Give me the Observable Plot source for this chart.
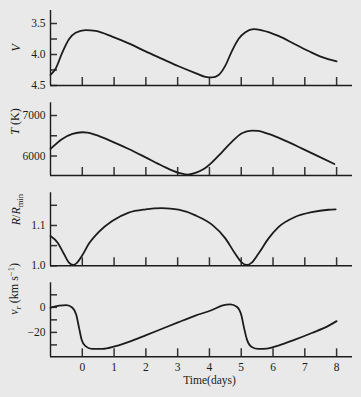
<!DOCTYPE html>
<html><head><meta charset="utf-8">
<script src="https://cdn.jsdelivr.net/npm/d3@7"></script>
<script src="https://cdn.jsdelivr.net/npm/@observablehq/plot@0.6"></script>
<style>
html,body{margin:0;padding:0;background:#e8e9e8;}
#chart{position:relative;width:361px;height:397px;overflow:hidden;background:#e8e9e8;}
#chart svg{position:absolute;left:0;}
</style></head><body><div id="chart"></div>
<script>
// ---- data ----
const dayTicks = [0, 1, 2, 3, 4, 5, 6, 7, 8];

const vTime = [-1, -0.84, -0.63, -0.42, -0.21, 0.1, 0.42, 0.94, 1.46, 1.99, 2.51, 3.03, 3.56, 3.87, 4.08, 4.29, 4.5, 4.71, 4.92, 5.13, 5.39, 5.65, 6.17, 6.69, 7.22, 7.64, 8.0];
const vMag  = [4.33, 4.23, 3.97, 3.755, 3.65, 3.605, 3.62, 3.71, 3.82, 3.95, 4.07, 4.19, 4.30, 4.36, 4.37, 4.33, 4.18, 3.94, 3.745, 3.64, 3.59, 3.61, 3.70, 3.835, 3.97, 4.06, 4.11];
const vTicks = [3.5, 3.75, 4.0, 4.25, 4.5];
const vTickLabels = [3.5, 4.0, 4.5];

const tTime = [-1, -0.63, -0.31, 0, 0.16, 0.42, 0.94, 1.46, 1.99, 2.51, 3.03, 3.3, 3.56, 3.82, 4.08, 4.39, 4.71, 5.02, 5.33, 5.54, 5.86, 6.38, 6.9, 7.43, 7.93];
const tTemp = [6174, 6421, 6545, 6587, 6579, 6521, 6355, 6174, 5967, 5760, 5585, 5540, 5585, 5678, 5843, 6091, 6355, 6562, 6628, 6620, 6545, 6380, 6190, 5992, 5802];
const tTicks = [6000, 6500, 7000];
const tTickLabels = [6000, 7000];

const rTime  = [-1, -0.78, -0.58, -0.42, -0.29, -0.16, 0, 0.21, 0.52, 0.94, 1.46, 1.99, 2.51, 3.03, 3.56, 4.08, 4.5, 4.81, 5.02, 5.18, 5.33, 5.54, 5.86, 6.17, 6.69, 7.22, 7.74, 7.97];
const rRatio = [1.074, 1.058, 1.030, 1.008, 1.002, 1.008, 1.026, 1.055, 1.084, 1.111, 1.132, 1.140, 1.143, 1.139, 1.125, 1.102, 1.068, 1.030, 1.008, 1.002, 1.008, 1.030, 1.068, 1.096, 1.121, 1.133, 1.139, 1.140];
const rTicks = [1.0, 1.05, 1.1, 1.15];
const rTickLabels = [1.0, 1.1];

const vrTime = [-1, -0.73, -0.5, -0.31, -0.19, -0.1, -0.02, 0.1, 0.31, 0.63, 1.05, 1.57, 1.99, 2.51, 3.03, 3.56, 4.08, 4.39, 4.66, 4.86, 5.0, 5.09, 5.18, 5.33, 5.54, 5.81, 6.17, 6.69, 7.22, 7.74, 8.0];
const vrVel  = [-0.3, 1.3, 1.8, -0.3, -6, -16.6, -25.8, -31, -33.2, -33.2, -31, -26.6, -22.4, -17.1, -11.8, -6.6, -2.1, 1.3, 2.4, 0.5, -6, -16.6, -25.8, -31.6, -33.2, -32.9, -30.5, -25.8, -20.5, -14.8, -11];
const vrTicks = [-30, -20, -10, 0, 10];
const vrTickLabels = [-20, 0];

// axis label text (with styling parts)
const labelV  = [{t: "V", i: true}];
const labelT  = [{t: "T", i: true}, {t: " (K)"}];
const labelR  = [{t: "R", i: true}, {t: "/"}, {t: "R", i: true}, {t: "min", sub: true}];
const labelVr = [{t: "v", i: true}, {t: "r", i: true, sub: true}, {t: " (km s"}, {t: "−1", sup: true}, {t: ")"}];
const xLabel = "Time(days)";

// ---- drawing ----
const ink = "#1c1c1c";
const W = 361, ML = 50, MR = 9;
const fmt = d => (d < 0 ? "−" + Math.abs(d) : String(d));
const chart = document.getElementById("chart");

function panel(o) {
  const frameH = o.height - o.mt - o.mb;
  const frameW = W - ML - MR;
  const t = o.time, v = o.values;
  const bottomVal = o.reverse ? o.yDomain[1] : o.yDomain[0];
  const plain = o.label.map(p => p.t).join("");
  const marks = [
    Plot.tickX(dayTicks, {x: d => d, insetTop: frameH - 8, stroke: "#333", strokeWidth: 1.5}),
    Plot.tickY(o.yTicks, {y: d => d, insetRight: frameW - 7, stroke: "#333", strokeWidth: 1.5}),
    Plot.ruleX([-1], {stroke: ink, strokeWidth: 1.4}),
    Plot.ruleY([bottomVal], {stroke: ink, strokeWidth: 1.4}),
    Plot.axisY({ticks: o.yTickLabels, tickSize: 0, tickPadding: 5, tickFormat: o.yFmt, label: null, fontSize: 11.5}),
    Plot.line(t.map((d, i) => [d, v[i]]), {x: d => d[0], y: d => d[1], curve: "monotone-x", stroke: ink, strokeWidth: 1.8}),
    Plot.text([plain], {frameAnchor: "left", dx: o.ldx, dy: o.ldy, rotate: -90, text: d => d, fontSize: 12, fill: ink})
  ];
  if (o.showX) {
    marks.push(Plot.axisX({ticks: dayTicks, tickSize: 0, tickPadding: 6, tickFormat: fmt, label: null, fontSize: 11.5}));
    marks.push(Plot.text([xLabel], {frameAnchor: "bottom", dx: 8, dy: 27, text: d => d, fontSize: 11.5, fill: ink}));
  }
  const svg = Plot.plot({
    width: W, height: o.height,
    marginLeft: ML, marginRight: MR, marginTop: o.mt, marginBottom: o.mb,
    x: {domain: [-1, 8.5], axis: null},
    y: {domain: o.yDomain, reverse: !!o.reverse, axis: null},
    style: {fontFamily: "'Liberation Serif', 'DejaVu Serif', serif", background: "transparent", color: ink, overflow: "visible"},
    marks
  });
  svg.style.top = o.top + "px";
  chart.appendChild(svg);
  // rich label
  const txt = d3.select(svg).selectAll("text").filter(function() { return this.textContent === plain; });
  txt.text(null);
  let shift = 0;
  for (const p of o.label) {
    const s = txt.append("tspan").text(p.t);
    if (p.i) s.attr("font-style", "italic");
    const target = p.sub ? 3 : p.sup ? -4.5 : 0;
    if (target !== shift) { s.attr("dy", target - shift); shift = target; }
    if (p.sub || p.sup) s.attr("font-size", "8.5px");
  }
}

panel({top: 0, height: 92, mt: 10, mb: 7, time: vTime, values: vMag, yDomain: [3.29, 4.5], reverse: true,
  yTicks: vTicks, yTickLabels: vTickLabels, yFmt: d3.format(".1f"), label: labelV, ldx: -34, ldy: 3.5});
panel({top: 92, height: 92, mt: 10.3, mb: 9, time: tTime, values: tTemp, yDomain: [5519, 7314],
  yTicks: tTicks, yTickLabels: tTickLabels, yFmt: d => String(d), label: labelT, ldx: -35, ldy: -4.5});
panel({top: 184, height: 90, mt: 8.3, mb: 8.7, time: rTime, values: rRatio, yDomain: [1.0, 1.181],
  yTicks: rTicks, yTickLabels: rTickLabels, yFmt: d3.format(".1f"), label: labelR, ldx: -34, ldy: -4});
panel({top: 274, height: 123, mt: 8.3, mb: 40.7, time: vrTime, values: vrVel, yDomain: [-39.5, 19.6],
  yTicks: vrTicks, yTickLabels: vrTickLabels, yFmt: fmt, label: labelVr, ldx: -36, ldy: -5, showX: true});
</script></body></html>
